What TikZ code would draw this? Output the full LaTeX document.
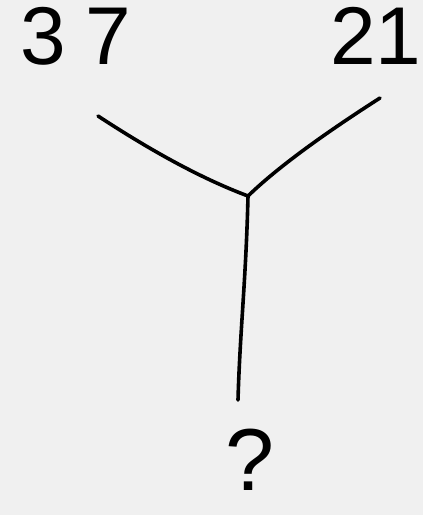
\documentclass[tikz,border=0pt]{standalone}
\usepackage{fontspec}
\setmainfont{Liberation Sans}
\definecolor{bg}{HTML}{F0F0F0}
\begin{document}
\begin{tikzpicture}[x=1pt,y=-1pt,
  stroke/.style={line width=3.6pt, line cap=round, line join=round, black},
  num/.style={font=\fontsize{82}{82}\selectfont, inner sep=0pt, anchor=center}]
\fill[bg] (0,0) rectangle (423,515);
\useasboundingbox (0,0) rectangle (423,515);
\node[num] (a) at (76,36) {3\kern20pt 7};
\node[num] (b) at (376,36) {21};
\node[num, font=\fontsize{88}{88}\selectfont] (q) at (250,460) {?};
\coordinate (l) at (98,116);
\coordinate (r) at (380,98);
\coordinate (j) at (248,196);
\coordinate (s) at (238,400);
\draw[stroke] (l) .. controls (150,150) and (200,178) .. (j);
\draw[stroke] (r) .. controls (330,130) and (280,165) .. (j);
\draw[stroke] (j) .. controls (246,280) and (240,330) .. (s);
\end{tikzpicture}
\end{document}
